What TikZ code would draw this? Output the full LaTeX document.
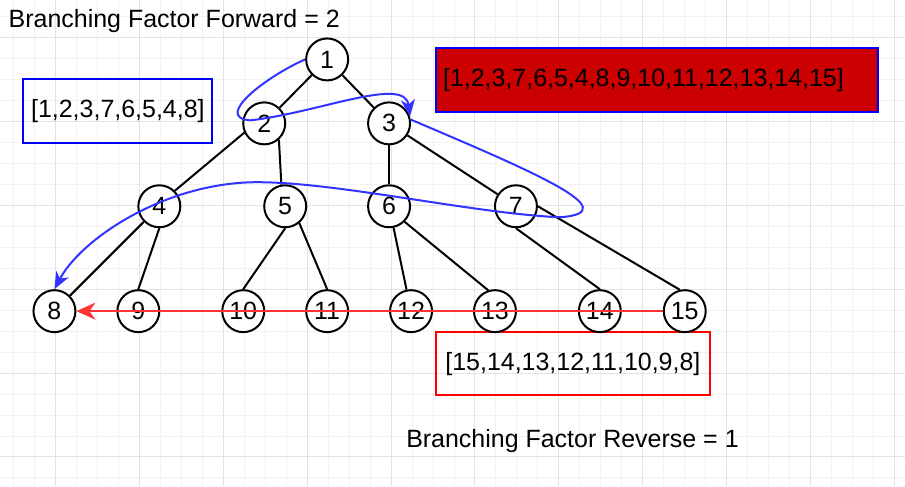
\documentclass[tikz,border=0pt]{standalone}
\usepackage{fontspec}
\setmainfont{Liberation Sans}
\usetikzlibrary{arrows.meta}

\definecolor{walkblue}{RGB}{51,51,255}
\definecolor{listblue}{RGB}{0,0,255}
\definecolor{listred}{RGB}{255,0,0}
\definecolor{fillred}{RGB}{204,0,0}
\definecolor{backred}{RGB}{255,51,51}
\definecolor{gridminor}{RGB}{242,242,242}
\definecolor{gridmajor}{RGB}{226,226,226}

\begin{document}
\begin{tikzpicture}[x=1pt,y=1pt,
  every node/.append style={inner sep=0pt, font=\fontsize{25}{30}\selectfont},
  vertex/.style={circle, draw=black, fill=white, line width=2pt, minimum size=42pt},
  edge/.style={black, line width=2pt},
  walk/.style={walkblue, line width=2pt, -{Stealth[length=17pt,width=14pt,inset=5pt]}},
  back/.style={backred, line width=2.5pt, -{Stealth[length=19pt,width=17pt,inset=6pt]}},
  listbox/.style={line width=2pt, minimum height=64pt}]
\fill [white] (0,0) rectangle (905,-486);
\begin{scope}[shift={(13,-16)}]
\draw [gridminor, line width=1pt, step=21] (-13,16) grid (892,-470);
\end{scope}
\begin{scope}[shift={(55,-37)}]
\draw [gridmajor, line width=1pt, step=84] (-55,37) grid (850,-449);
\end{scope}
\node [anchor=base west] (fwdlabel) at (8,-27) {Branching Factor Forward = 2};
\node [anchor=base west] (revlabel) at (406,-447) {Branching Factor Reverse = 1};
\node [listbox, draw=listblue, minimum width=189pt] (fwdlist) at (117.5,-111) {[1,2,3,7,6,5,4,8]};
\node [listbox, draw=listblue, fill=fillred, text width=428pt, inner xsep=7pt, align=left] (bfslist) at (657,-80) {[1,2,3,7,6,5,4,8,9,10,11,12,13,14,15]};
\node [listbox, draw=listred, minimum width=274pt, minimum height=63pt] (revlist) at (573,-363.5) {[15,14,13,12,11,10,9,8]};
\node [vertex] (n1) at (327,-59) {1};
\node [vertex] (n2) at (264,-123) {2};
\node [vertex] (n3) at (389,-123) {3};
\node [vertex] (n4) at (159,-206) {4};
\node [vertex] (n5) at (285,-206) {5};
\node [vertex] (n6) at (389,-206) {6};
\node [vertex] (n7) at (516,-206) {7};
\node [vertex] (n8) at (54,-311) {8};
\node [vertex] (n9) at (138,-311) {9};
\node [vertex] (n10) at (243,-311) {10};
\node [vertex] (n11) at (327,-311) {11};
\node [vertex] (n12) at (411,-311) {12};
\node [vertex] (n13) at (495,-311) {13};
\node [vertex] (n14) at (600,-311) {14};
\node [vertex] (n15) at (685,-311) {15};
\draw [edge] (n1) -- (n2);
\draw [edge] (n1) -- (n3);
\draw [edge] (n2.205) -- (n4.north east);
\draw [edge] (n2.-48) -- (n5.100);
\draw [edge] (n3) -- (n6);
\draw [edge] (n3) -- (n7);
\draw [edge] (n4) -- (n8);
\draw [edge] (n4.south) -- (n9.north);
\draw [edge] (n5.south) -- (n10.north);
\draw [edge] (n5.-50) -- (n11.north);
\draw [edge] (n6) -- (n12);
\draw [edge] (n6.-45) -- (n13.108);
\draw [edge] (n7.south) -- (n14.north);
\draw [edge] (n7.east) -- (n15.103);
\draw [walk] (n1.west) .. controls (268,-75) and (212,-117) .. (250,-120) .. controls (320,-112) and (405,-75) .. (n3.18);
\draw [walk] (n3.10) .. controls (530,-170) and (630,-212) .. (560,-217) .. controls (470,-213) and (330,-180) .. (250,-182) .. controls (160,-185) and (80,-240) .. (n8.north);
\draw [back] (n15) -- (n8);
\end{tikzpicture}
\end{document}
